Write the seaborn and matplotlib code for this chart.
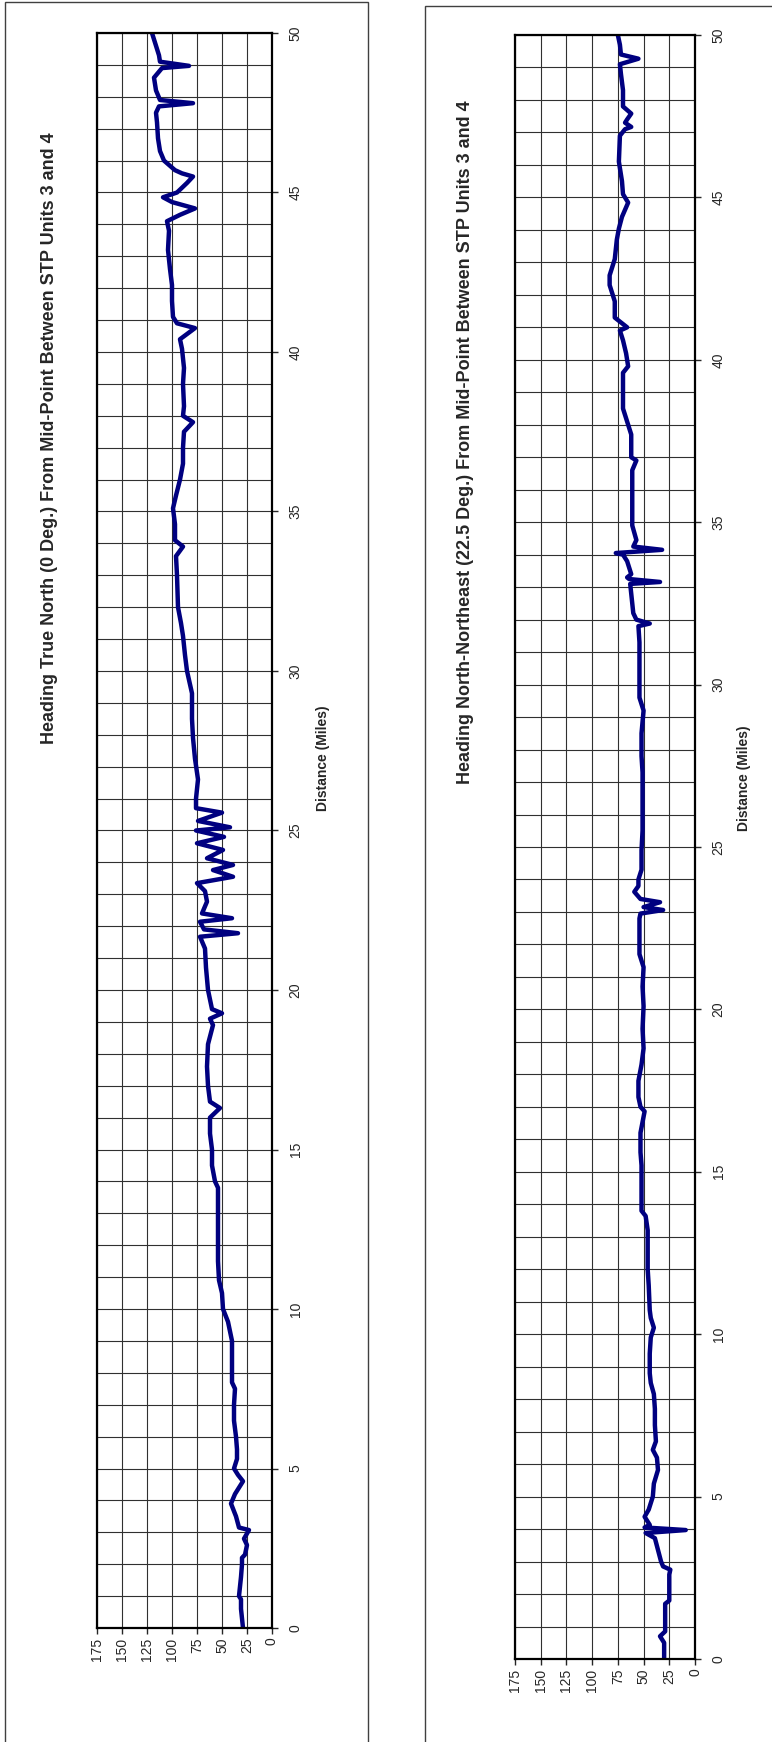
import numpy as np
import pandas as pd
import matplotlib
matplotlib.use('Agg')
import matplotlib.pyplot as plt
from matplotlib.patches import Rectangle
import seaborn as sns

sns.set_style('white')
plt.rcParams['font.family'] = ['Liberation Sans', 'DejaVu Sans']

# ===== data: distance (miles) / reading =====
north_miles = [0.0, 0.3, 0.6, 0.9, 1.0, 1.3, 1.6, 2.0, 2.2, 2.3, 2.6, 2.8, 3.07, 3.15, 3.5,
               3.9, 4.2, 4.6, 4.8, 5.0, 5.3, 5.6, 6.0, 6.5, 7.0, 7.5, 7.7, 8.0, 8.5, 9.0,
               9.3, 9.6, 10.0, 10.5, 10.9, 11.5, 12.0, 13.0, 13.8, 14.0, 14.5, 15.0, 15.5, 16.0, 16.3,
               16.5, 17.0, 17.6, 18.3, 18.9, 19.1, 19.27, 19.4, 20.0, 20.7, 21.3, 21.67, 21.78, 21.9, 22.14,
               22.25, 22.4, 22.77, 23.1, 23.35, 23.55, 23.76, 23.92, 24.13, 24.39, 24.6, 24.8, 25.0, 25.1, 25.3,
               25.56, 25.7, 26.0, 26.6, 27.25, 27.9, 28.5, 29.3, 30.0, 30.5, 31.1, 31.5, 32.0, 33.0, 33.6,
               33.9, 34.1, 34.6, 35.1, 35.5, 36.0, 36.5, 37.0, 37.5, 37.8, 38.0, 38.3, 39.0, 39.5, 40.1,
               40.4, 40.75, 40.9, 41.1, 41.6, 42.1, 42.6, 43.2, 43.8, 44.1, 44.3, 44.5, 44.7, 44.85, 45.0,
               45.3, 45.5, 45.6, 45.7, 46.0, 46.3, 46.7, 47.2, 47.5, 47.7, 47.8, 47.9, 48.2, 48.6, 48.9,
               48.97, 49.1, 49.3, 49.6, 50.0]
north_values = [29, 30, 31, 31, 33, 32, 31, 30, 30, 27, 25, 28, 23, 33, 36,
                41, 37, 29, 34, 38, 35, 35, 36, 38, 38, 37, 40, 40, 40, 40,
                42, 44, 49, 50, 53, 54, 54, 54, 54, 57, 60, 60, 62, 62, 52,
                62, 64, 65, 64, 59, 62, 50, 60, 64, 66, 67, 72, 34, 68, 72,
                40, 70, 65, 67, 75, 39, 59, 39, 65, 49, 75, 48, 76, 42, 74,
                50, 76, 76, 74, 77, 79, 80, 80, 85, 87, 89, 91, 94, 95, 96,
                89, 97, 97, 99, 96, 92, 89, 89, 88, 79, 89, 88, 89, 88, 90,
                92, 77, 95, 99, 100, 100, 102, 104, 103, 105, 92, 77, 100, 109, 95,
                85, 79, 90, 97, 108, 112, 114, 115, 116, 113, 79, 112, 116, 118, 110,
                83, 112, 113, 116, 120]

nne_miles = [0.0, 0.5, 0.7, 0.85, 1.2, 1.7, 1.8, 2.2, 2.6, 2.75, 2.85, 3.0, 3.36, 3.72, 3.88,
             3.97, 4.05, 4.13, 4.38, 4.6, 5.0, 5.4, 5.82, 6.2, 6.44, 6.7, 7.2, 7.7, 8.16, 8.5,
             8.8, 9.4, 9.9, 10.2, 10.5, 10.74, 11.5, 12.0, 12.6, 13.2, 13.64, 13.8, 14.5, 15.2, 15.6,
             16.2, 16.86, 17.0, 17.3, 17.8, 18.3, 18.8, 19.4, 20.1, 20.7, 21.3, 21.7, 22.3, 22.8, 22.95,
             23.06, 23.15, 23.3, 23.4, 23.62, 23.8, 24.0, 24.3, 24.9, 25.5, 26.5, 27.3, 27.8, 28.5, 29.2,
             29.6, 30.5, 31.3, 31.8, 31.88, 32.0, 32.2, 32.8, 33.1, 33.16, 33.25, 33.3, 33.4, 33.8, 34.0,
             34.05, 34.15, 34.25, 34.45, 34.9, 35.5, 36.1, 36.6, 36.9, 37.0, 37.7, 38.0, 38.5, 39.0, 39.6,
             39.8, 40.2, 40.6, 40.9, 41.0, 41.3, 41.8, 42.3, 42.6, 43.1, 43.7, 44.04, 44.4, 44.84, 45.1,
             45.5, 46.1, 46.9, 47.1, 47.17, 47.3, 47.4, 47.58, 47.8, 48.3, 48.8, 49.1, 49.27, 49.4, 49.7,
             50.0]
nne_values = [30, 30, 34, 29, 29, 29, 25, 25, 25, 24, 31, 33, 36, 39, 48,
              9, 49, 44, 49, 45, 41, 40, 36, 37, 41, 38, 39, 39, 40, 43,
              44, 44, 43, 40, 43, 44, 45, 46, 46, 46, 48, 52, 52, 52, 53,
              53, 49, 53, 55, 55, 52, 50, 51, 50, 51, 50, 54, 54, 54, 53,
              31, 50, 34, 53, 59, 55, 55, 52, 52, 51, 51, 51, 52, 52, 50,
              54, 54, 54, 55, 44, 57, 60, 62, 63, 34, 64, 66, 62, 66, 70,
              77, 32, 60, 57, 61, 61, 61, 61, 57, 62, 62, 65, 70, 70, 70,
              65, 67, 70, 73, 66, 78, 78, 83, 83, 78, 76, 74, 71, 65, 70,
              71, 74, 73, 68, 62, 68, 66, 62, 70, 70, 72, 73, 55, 72, 73,
              75]

titles = ['Heading True North (0 Deg.) From Mid-Point Between STP Units 3 and 4',
          'Heading North-Northeast (22.5 Deg.) From Mid-Point Between STP Units 3 and 4']
value_ticks = [0, 25, 50, 75, 100, 125, 150, 175]
mile_ticks = [0, 5, 10, 15, 20, 25, 30, 35, 40, 45, 50]

W, H = 772, 1742
fig = plt.figure(figsize=(W / 100, H / 100), dpi=100)
fig.patch.set_facecolor('white')

def fx(px):
    return px / W

def fy(py):
    return 1 - py / H

# outer chart borders
fig.add_artist(Rectangle((fx(5), fy(1760)), fx(363), 1760 / H - 2 / H, transform=fig.transFigure,
                         fill=False, edgecolor='#404040', linewidth=1.0))
fig.add_artist(Rectangle((fx(425), fy(1760)), fx(400), 1760 / H - 6 / H, transform=fig.transFigure,
                         fill=False, edgecolor='#404040', linewidth=1.0))

panels = [
    dict(miles=north_miles, values=north_values, box=(97, 272, 33, 1628),
         title=titles[0], title_xy=(50, 438), label_xy=(323, 758)),
    dict(miles=nne_miles, values=nne_values, box=(515, 695, 35, 1659),
         title=titles[1], title_xy=(466, 442), label_xy=(744, 778)),
]

for p in panels:
    x0, x1, y0, y1 = p['box']
    ax = fig.add_axes([fx(x0), fy(y1), fx(x1 - x0), (y1 - y0) / H])
    df = pd.DataFrame({'Distance': p['miles'], 'Value': p['values']})
    sns.lineplot(data=df, x='Value', y='Distance', sort=False, estimator=None,
                 color='#000080', linewidth=3.2, ax=ax)

    ax.set_xlim(175, 0)
    ax.set_ylim(0, 50)
    ax.set_xticks(value_ticks)
    ax.set_xticklabels([str(v) for v in value_ticks], rotation=90, fontsize=10)
    ax.set_yticks(mile_ticks)
    ax.set_yticks(np.arange(0, 51, 1), minor=True)
    ax.yaxis.tick_right()
    ax.set_yticklabels([str(v) for v in mile_ticks], rotation=90, va='center', fontsize=10)
    ax.tick_params(axis='y', which='major', direction='out', length=4, width=1, pad=8, right=True, left=False)
    ax.tick_params(axis='y', which='minor', length=0)
    ax.tick_params(axis='x', direction='out', length=4, width=1, pad=3, bottom=True)
    ax.grid(True, which='both', axis='y', color='#303030', linewidth=0.8)
    ax.grid(True, which='major', axis='x', color='#303030', linewidth=0.8)
    ax.set_axisbelow(True)
    for s in ax.spines.values():
        s.set_visible(True)
        s.set_color('black')
        s.set_linewidth(1.6)
    ax.set_xlabel('')
    ax.set_ylabel('')

    tx, ty = p['title_xy']
    fig.text(fx(tx), fy(ty), p['title'], rotation=90, ha='center', va='center',
             fontsize=13, fontweight='bold')
    lx, ly = p['label_xy']
    fig.text(fx(lx), fy(ly), 'Distance (Miles)', rotation=90, ha='center', va='center',
             fontsize=10, fontweight='bold')

fig.savefig('out.png', dpi=100, facecolor='white')
